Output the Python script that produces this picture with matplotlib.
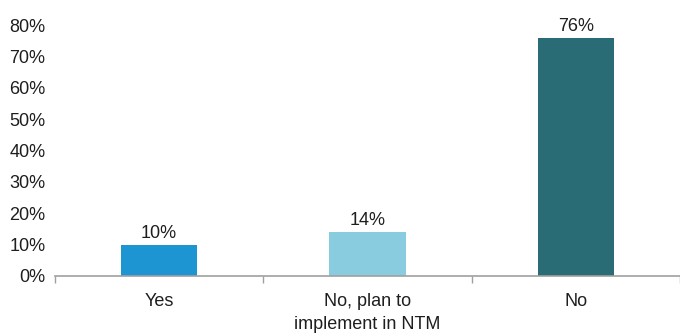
import matplotlib
matplotlib.use('Agg')
import matplotlib.pyplot as plt
from matplotlib.ticker import FixedLocator

# ─── DATA ─────────────────────────────────────────────────────────────
categories = ["Yes", "No, plan to\nimplement in NTM", "No"]
values = [10, 14, 76]
bar_colours = ["#1C95D2", "#89CBDF", "#2A6C75"]
y_ticks = [0, 10, 20, 30, 40, 50, 60, 70, 80]

plt.rcParams['font.family'] = ['Liberation Sans Narrow', 'Liberation Sans', 'DejaVu Sans']

W, H = 680, 333
fig = plt.figure(figsize=(W / 100, H / 100), dpi=100)
ax = fig.add_axes([55 / W, 1 - 276 / H, (680 - 55) / W, (276 - 25) / H])

x = range(len(categories))
bars = ax.bar(x, values, width=0.365, color=bar_colours, zorder=2)

for b, v in zip(bars, values):
    ax.annotate(f"{v}%", (b.get_x() + b.get_width() / 2, v),
                xytext=(0, 2), textcoords='offset points',
                ha='center', va='bottom', fontsize=13, color='#1E1E1E')

ax.set_xlim(-0.5, len(categories) - 0.5)
ax.set_ylim(0, 80)
ax.set_yticks(y_ticks)
ax.set_yticklabels([f"{t}%" for t in y_ticks], fontsize=13, color='#1E1E1E')
ax.tick_params(axis='y', length=0, pad=7)

ax.set_xticks(list(x))
ax.set_xticklabels(categories, fontsize=13, color='#1E1E1E', linespacing=1.45)
ax.tick_params(axis='x', which='major', length=0, pad=12)
ax.xaxis.set_minor_locator(FixedLocator([i - 0.5 for i in range(len(categories) + 1)]))
ax.tick_params(axis='x', which='minor', length=5, width=1, color='#A0A0A0')

for s in ['top', 'right', 'left']:
    ax.spines[s].set_visible(False)
ax.spines['bottom'].set_color('#A0A0A0')
ax.spines['bottom'].set_linewidth(1.2)

fig.savefig('out.png', dpi=100)
